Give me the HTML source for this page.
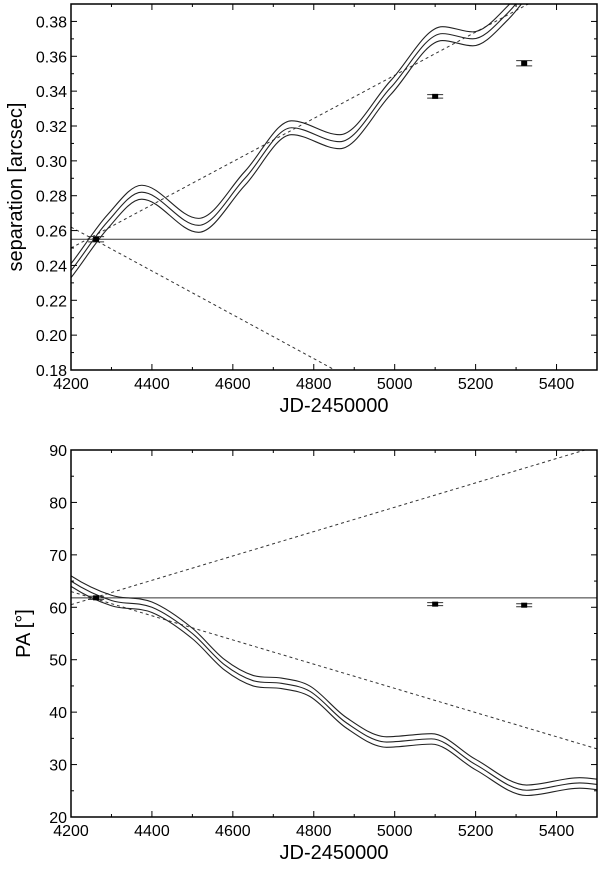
<!DOCTYPE html>
<html><head><meta charset="utf-8"><style>
html,body{margin:0;padding:0;background:#fff}
svg text{font-family:"Liberation Sans",Arial,sans-serif;fill:#000}
</style></head><body>
<svg id="c" width="600" height="869" viewBox="0 0 600 869" xmlns="http://www.w3.org/2000/svg"></svg>
<script>
// ---- data ----
const xTicks=[4200,4400,4600,4800,5000,5200,5400];
const sepTicks=[0.18,0.20,0.22,0.24,0.26,0.28,0.30,0.32,0.34,0.36,0.38];
const paTicks=[20,30,40,50,60,70,80,90];
const sepCurveJD=[4120,4200,4290,4375,4515,4630,4745,4864,4990,5118,5193,5280,5350];
const sepCurveVal=[0.215,0.237,0.265,0.282,0.263,0.290,0.319,0.311,0.342,0.373,0.370,0.385,0.405];
const sepBand=0.004;
const sepDashUp=[[4200,0.250],[5330,0.390]];
const sepDashDown=[[4200,0.262],[4852,0.180]];
const sepHoriz=0.255;
const sepPtsJD=[4262,5100,5320];
const sepPtsVal=[0.255,0.337,0.356];
const sepPtsErr=[0.0015,0.001,0.0015];
const paCurveJD=[4120,4200,4300,4400,4500,4580,4650,4720,4790,4880,4980,5091,5200,5326,5457,5560];
const paCurveVal=[70,65,61.3,60,55,49,46,45.5,44,38,34.3,34.9,30,25.1,26.5,25.5];
const paBand=1.0;
const paDashUp=[[4200,60.5],[5470,90]];
const paDashDown=[[4200,63],[5500,33]];
const paHoriz=61.8;
const paPtsJD=[4262,5100,5320];
const paPtsVal=[61.8,60.6,60.4];
const paPtsErr=[0.3,0.2,0.2];

const NS="http://www.w3.org/2000/svg";
const svg=document.getElementById('c');
function mk(tag,attrs,parent){const e=document.createElementNS(NS,tag);for(const k in attrs)e.setAttribute(k,attrs[k]);(parent||svg).appendChild(e);return e;}

function panel(cfg){
  const L=71,R=597,T=cfg.top,B=cfg.bottom;
  const xs=v=>L+(v-4200)/(5500-4200)*(R-L);
  const ys=v=>B-(v-cfg.ymin)/(cfg.ymax-cfg.ymin)*(B-T);
  const g=mk('g',{});
  
  
  const cp=mk('clipPath',{id:cfg.name+'-clip'},g);
  mk('rect',{x:L,y:T,width:R-L,height:B-T},cp);
  const plot=mk('g',{'clip-path':'url(#'+cfg.name+'-clip)'},g);
  const h=mk('line',{x1:L,x2:R,y1:ys(cfg.horiz),y2:ys(cfg.horiz),stroke:'#333','stroke-width':1},plot);
  
  
  [cfg.dashUp,cfg.dashDown].forEach((d,i)=>{
    const l=mk('line',{x1:xs(d[0][0]),y1:ys(d[0][1]),x2:xs(d[1][0]),y2:ys(d[1][1]),stroke:'#333','stroke-width':1,'stroke-dasharray':'3,3'},plot);
    
    
  });
  // monotone-ish cubic hermite (Fritsch-Carlson) on data-space then mapped
  [-1,0,1].forEach(k=>{
    const X=cfg.cjd, Y=cfg.cval.map(v=>v+k*cfg.band), n=X.length;
    const dk=[],m=[];
    for(let i=0;i<n-1;i++)dk.push((Y[i+1]-Y[i])/(X[i+1]-X[i]));
    for(let i=0;i<n;i++){
      if(i===0)m.push(dk[0]);else if(i===n-1)m.push(dk[n-2]);
      else m.push(dk[i-1]*dk[i]<=0?0:(dk[i-1]+dk[i])/2);
    }
    let d='M'+xs(X[0])+','+ys(Y[0]);
    for(let i=0;i<n-1;i++){
      const h=X[i+1]-X[i];
      d+=' C'+xs(X[i]+h/3)+','+ys(Y[i]+m[i]*h/3)+' '+xs(X[i+1]-h/3)+','+ys(Y[i+1]-m[i+1]*h/3)+' '+xs(X[i+1])+','+ys(Y[i+1]);
    }
    const c=mk('path',{d:d,fill:'none',stroke:'#222','stroke-width':1.1},plot);
    
    
  });
  cfg.pjd.forEach((j,i)=>{
    const x=xs(j),y=ys(cfg.pval[i]),e=Math.max(ys(cfg.pval[i]-cfg.perr[i])-y,1.5);
    const pg=mk('g',{},plot);
    
    
    mk('line',{x1:x-8,x2:x+8,y1:y-e,y2:y-e,stroke:'#333'},pg);
    mk('line',{x1:x-8,x2:x+8,y1:y+e,y2:y+e,stroke:'#333'},pg);
    mk('line',{x1:x,x2:x,y1:y-e,y2:y+e,stroke:'#000'},pg);
    mk('rect',{x:x-3,y:y-2.5,width:6,height:5,fill:'#000'},pg);
  });
  const f=mk('rect',{x:L,y:T,width:R-L,height:B-T,fill:'none',stroke:'#000','stroke-width':1.5},g);
  
  
  for(let v=4200;v<=5500;v+=100){
    const x=xs(v),len=(v%200===0)?6:3;
    mk('line',{x1:x,x2:x,y1:B,y2:B-len,stroke:'#000','stroke-width':1},g);
    mk('line',{x1:x,x2:x,y1:T,y2:T+len,stroke:'#000','stroke-width':1},g);
  }
  xTicks.forEach(v=>{
    const t=mk('text',{x:xs(v),y:B+19,'text-anchor':'middle','font-size':16},g);
    t.textContent=v;
    
    
  });
  const ticks=cfg.yticks,step=ticks[1]-ticks[0];
  for(let i=0;i<ticks.length*2;i++){
    const v=ticks[0]+i*step/2;if(v>cfg.ymax+1e-9)break;
    const y=ys(v),len=(i%2===0)?6:3;
    mk('line',{x1:L,x2:L+len,y1:y,y2:y,stroke:'#000','stroke-width':1},g);
    mk('line',{x1:R,x2:R-len,y1:y,y2:y,stroke:'#000','stroke-width':1},g);
  }
  ticks.forEach(v=>{
    const t=mk('text',{x:L-4,y:ys(v)+6,'text-anchor':'end','font-size':16},g);
    t.textContent=cfg.fmt(v);
    
    
  });
  const xt=mk('text',{x:(L+R)/2,y:B+42,'text-anchor':'middle','font-size':20},g);
  xt.textContent='JD-2450000';
  
  
  const yc=(T+B)/2;
  const yt=mk('text',{x:cfg.ylx,y:yc,'text-anchor':'middle','font-size':20,transform:'rotate(-90 '+cfg.ylx+' '+yc+')'},g);
  yt.textContent=cfg.ylabel;
  
  
}
panel({name:'separation-panel',top:4,bottom:370,ymin:0.18,ymax:0.39,yticks:sepTicks,fmt:v=>v.toFixed(2),ylabel:'separation [arcsec]',ylx:22,
  cjd:sepCurveJD,cval:sepCurveVal,band:sepBand,dashUp:sepDashUp,dashDown:sepDashDown,horiz:sepHoriz,pjd:sepPtsJD,pval:sepPtsVal,perr:sepPtsErr});
panel({name:'pa-panel',top:450,bottom:817,ymin:20,ymax:90,yticks:paTicks,fmt:v=>String(v),ylabel:'PA [°]',ylx:30,
  cjd:paCurveJD,cval:paCurveVal,band:paBand,dashUp:paDashUp,dashDown:paDashDown,horiz:paHoriz,pjd:paPtsJD,pval:paPtsVal,perr:paPtsErr});
</script>
</body></html>
